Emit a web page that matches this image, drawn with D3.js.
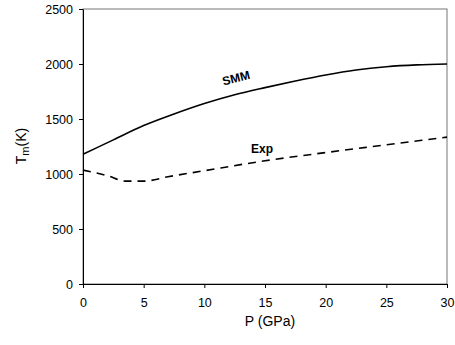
<!DOCTYPE html>
<html><head><meta charset="utf-8">
<script src="https://cdn.jsdelivr.net/npm/d3@7"></script>
<style>body{margin:0;background:#fff}svg{display:block}text{font-family:"Liberation Sans",Arial,sans-serif}</style>
</head><body><svg id="c" width="455" height="345"></svg>
<script>
const pressureSMM = [0, 2.5, 5, 7.5, 10, 12.5, 15, 17.5, 20, 22.5, 25, 27.5, 30];
const tmSMM = [1180, 1310, 1440, 1545, 1640, 1720, 1785, 1845, 1900, 1945, 1975, 1992, 2000];
const pressureExp = [0, 2, 3.5, 5, 7, 10, 15, 20, 25, 30];
const tmExp = [1035, 985, 935, 935, 975, 1030, 1120, 1195, 1265, 1335];
const xTicks = [0, 5, 10, 15, 20, 25, 30];
const yTicks = [0, 500, 1000, 1500, 2000, 2500];

const svg = d3.select("#c");
const L = 83, R = 447, T = 9, B = 284;
const x = d3.scaleLinear().domain([0, 30]).range([L, R]);
const y = d3.scaleLinear().domain([0, 2500]).range([B, T]);

// frame
svg.append("rect").attr("x", L).attr("y", T).attr("width", R - L).attr("height", B - T)
  .attr("fill", "none").attr("stroke", "#777").attr("stroke-width", 1);

const xa = svg.append("g").attr("transform", `translate(0,${B})`)
  .call(d3.axisBottom(x).tickValues(xTicks).tickFormat(d3.format("d")).tickSize(4).tickPadding(10).tickSizeOuter(0));
const ya = svg.append("g").attr("transform", `translate(${L},0)`)
  .call(d3.axisLeft(y).tickValues(yTicks).tickFormat(d3.format("d")).tickSize(4).tickPadding(6).tickSizeOuter(0));
[xa, ya].forEach(a => {
  a.select(".domain").attr("stroke", "#000");
  a.selectAll(".tick line").attr("stroke", "#000");
  a.selectAll("text").attr("font-size", 12.5).attr("fill", "#000")
    .attr("font-family", '"Liberation Sans",Arial,sans-serif');
});

const line = d3.line().curve(d3.curveMonotoneX);
svg.append("path")
  .attr("d", line(pressureSMM.map((p, i) => [x(p), y(tmSMM[i])])))
  .attr("fill", "none").attr("stroke", "#000").attr("stroke-width", 1.6);
svg.append("path")
  .attr("d", line(pressureExp.map((p, i) => [x(p), y(tmExp[i])])))
  .attr("fill", "none").attr("stroke", "#000").attr("stroke-width", 1.6)
  .attr("stroke-dasharray", "8,6");

svg.append("text").attr("transform", "translate(237,82) rotate(-14)")
  .attr("text-anchor", "middle").attr("font-size", 12).attr("font-weight", "bold").text("SMM");
svg.append("text").attr("x", 262).attr("y", 153)
  .attr("text-anchor", "middle").attr("font-size", 12).attr("font-weight", "bold").text("Exp");

svg.append("text").attr("x", 270).attr("y", 326).attr("text-anchor", "middle")
  .attr("font-size", 14).text("P (GPa)");
const yl = svg.append("text").attr("transform", "translate(26,146) rotate(-90)")
  .attr("text-anchor", "middle").attr("font-size", 14);
yl.append("tspan").text("T");
yl.append("tspan").attr("font-size", 11).attr("dy", 3).text("m");
yl.append("tspan").attr("dy", -3).text("(K)");
</script></body></html>
